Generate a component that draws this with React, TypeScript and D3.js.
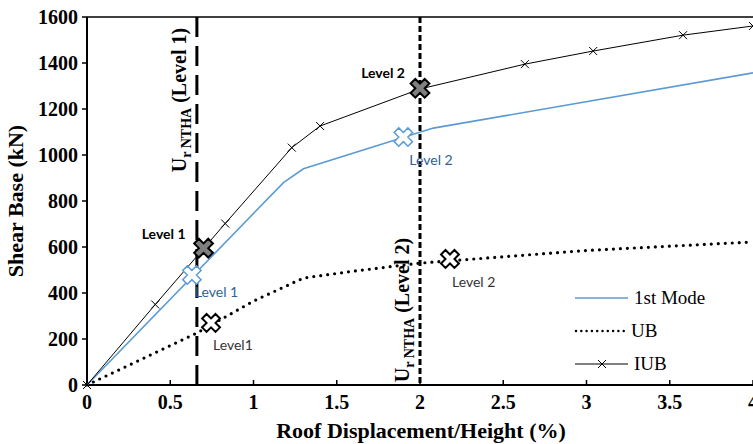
import React from 'react';
import * as d3 from 'd3';

// Pushover curves
const modeX = [0, 1.18, 1.3, 2.08, 4];
const modeY = [0, 880, 940, 1117, 1357];

const ubX = [0, 0.66, 1.0, 1.3, 1.6, 2.0, 3.0, 4.0];
const ubY = [0, 226, 365, 465, 495, 530, 585, 622];

const iubX = [0, 0.41, 0.83, 1.23, 1.4, 2.0, 2.63, 3.04, 3.58, 4.0];
const iubY = [0, 350, 702, 1032, 1126, 1287, 1395, 1452, 1521, 1561];

// performance points
const greyPts = [
  { x: 0.7, y: 595, label: 'Level 1' },
  { x: 2.0, y: 1290, label: 'Level 2' },
];
const bluePts = [
  { x: 0.63, y: 478, label: 'Level 1' },
  { x: 1.9, y: 1078, label: 'Level 2' },
];
const ubPts = [
  { x: 0.745, y: 270, label: 'Level1' },
  { x: 2.18, y: 548, label: 'Level 2' },
];

const nthaX = [0.66, 2.0];
const xTicks = [0, 0.5, 1, 1.5, 2, 2.5, 3, 3.5, 4];
const yTicks = [0, 200, 400, 600, 800, 1000, 1200, 1400, 1600];

const W = 753;
const H = 444;
const serif = '"Liberation Serif", "Times New Roman", serif';
const sans = 'Lato, "Open Sans", sans-serif';
const blue = '#5B9BD5';
const blueText = '#2E5F99';

const App: React.FC = () => {
  const x = d3.scaleLinear().domain([0, 4]).range([87, 753]);
  const y = d3.scaleLinear().domain([0, 1600]).range([385, 17]);

  const line = d3.line<[number, number]>()
    .x(d => x(d[0]))
    .y(d => y(d[1]));

  const zip = (a: number[], b: number[]) => a.map((v, i) => [v, b[i]] as [number, number]);

  const cross = d3.symbol().type(d3.symbolCross);
  const smallX = 'M-4,-4L4,4M-4,4L4,-4';

  return (
    <div style={{ position: 'absolute', left: 0, top: 0 }}>
      <svg width={W} height={H} style={{ display: 'block', background: '#fff' }}>
        {/* axes */}
        <line x1={x(0)} x2={W} y1={y(1600)} y2={y(1600)} stroke="#000" strokeWidth={1.5} />
        <line x1={x(0)} x2={x(0)} y1={y(0)} y2={y(1600)} stroke="#000" strokeWidth={2} />
        <line x1={x(0)} x2={W} y1={y(0)} y2={y(0)} stroke="#000" strokeWidth={2} />
        {yTicks.map(t => (
          <g key={'y' + t}>
            <line x1={x(0) - 5} x2={x(0)} y1={y(t)} y2={y(t)} stroke="#000" strokeWidth={1.5} />
            <text x={78} y={y(t)} dy="0.35em" textAnchor="end" fontFamily={serif}
              fontWeight="bold" fontSize={20}>{t}</text>
          </g>
        ))}
        {xTicks.map(t => (
          <g key={'x' + t}>
            <line x1={x(t)} x2={x(t)} y1={y(0)} y2={y(0) - 5} stroke="#000" strokeWidth={1.5} />
            <text x={x(t)} y={409} textAnchor="middle" fontFamily={serif}
              fontWeight="bold" fontSize={20}>{t}</text>
          </g>
        ))}
        <text x={421} y={438} textAnchor="middle" fontFamily={serif} fontWeight="bold"
          fontSize={22}>Roof Displacement/Height (%)</text>
        <text transform={`translate(23,${y(800)}) rotate(-90)`} textAnchor="middle"
          fontFamily={serif} fontWeight="bold" fontSize={22}>Shear Base (kN)</text>

        {/* NTHA lines */}
        <line x1={x(nthaX[0])} x2={x(nthaX[0])} y1={y(1600)} y2={y(0)} stroke="#000"
          strokeWidth={3} strokeDasharray="20 9" />
        <line x1={x(nthaX[1])} x2={x(nthaX[1])} y1={y(1600)} y2={y(0)} stroke="#000"
          strokeWidth={3} strokeDasharray="6 3" />
        {[{ xv: nthaX[0], cy: 100, lv: 'Level 1' }, { xv: nthaX[1], cy: 310, lv: 'Level 2' }].map(d => (
          <text key={d.lv} transform={`translate(${x(d.xv) - 11},${d.cy}) rotate(-90)`}
            textAnchor="middle" fontFamily={serif} fontWeight="bold" fontSize={20}>
            U<tspan fontSize={14} dy={5}>r NTHA</tspan>
            <tspan dy={-5}> ({d.lv})</tspan>
          </text>
        ))}

        {/* curves */}
        <path d={line(zip(ubX, ubY)) || ''} fill="none" stroke="#000" strokeWidth={3.2}
          strokeDasharray="0 7" strokeLinecap="round" />
        <path d={line(zip(modeX, modeY)) || ''} fill="none" stroke={blue} strokeWidth={1.6} />
        <path d={line(zip(iubX, iubY)) || ''} fill="none" stroke="#000" strokeWidth={1} />
        {iubX.map((v, i) => (
          <path key={'m' + i} d={smallX} transform={`translate(${x(v)},${y(iubY[i])})`}
            stroke="#000" strokeWidth={1} fill="none" />
        ))}

        {/* markers */}
        {ubPts.map(p => (
          <path key={'u' + p.label} d={cross.size(200)() || ''}
            transform={`translate(${x(p.x)},${y(p.y)}) rotate(45)`}
            fill="#fff" stroke="#000" strokeWidth={2} />
        ))}
        {bluePts.map(p => (
          <path key={'b' + p.label} d={cross.size(210)() || ''}
            transform={`translate(${x(p.x)},${y(p.y)}) rotate(45)`}
            fill="#fff" stroke={blue} strokeWidth={1.5} />
        ))}
        {greyPts.map(p => (
          <path key={'g' + p.label} d={cross.size(220)() || ''}
            transform={`translate(${x(p.x)},${y(p.y)}) rotate(45)`}
            fill="#7f7f7f" stroke="#000" strokeWidth={2} />
        ))}

        {/* point labels */}
        <text x={x(greyPts[0].x) - 18} y={y(greyPts[0].y) - 9} textAnchor="end"
          fontFamily={sans} fontWeight="bold" fontSize={14}>{greyPts[0].label}</text>
        <text x={x(greyPts[1].x) - 15} y={y(greyPts[1].y) - 10} textAnchor="end"
          fontFamily={sans} fontWeight="bold" fontSize={14}>{greyPts[1].label}</text>
        <text x={x(bluePts[0].x) + 3} y={y(bluePts[0].y) + 22} fontFamily={sans}
          fontSize={14} fill={blueText}>{bluePts[0].label}</text>
        <text x={x(bluePts[1].x) + 6} y={y(bluePts[1].y) + 28} fontFamily={sans}
          fontSize={14} fill={blueText}>{bluePts[1].label}</text>
        <text x={x(ubPts[0].x) + 2} y={y(ubPts[0].y) + 27} fontFamily={sans}
          fontSize={14} fill="#333">{ubPts[0].label}</text>
        <text x={x(ubPts[1].x) + 2} y={y(ubPts[1].y) + 28} fontFamily={sans}
          fontSize={14} fill="#333">{ubPts[1].label}</text>

        {/* legend */}
        <line x1={575} x2={628} y1={298} y2={298} stroke={blue} strokeWidth={1.6} />
        <text x={634} y={304} fontFamily={serif} fontSize={19}>1st Mode</text>
        <line x1={576} x2={624} y1={331} y2={331} stroke="#000" strokeWidth={2.5}
          strokeDasharray="0 5.3" strokeLinecap="round" />
        <text x={631} y={337} fontFamily={serif} fontSize={19}>UB</text>
        <line x1={575} x2={628} y1={364} y2={364} stroke="#000" strokeWidth={1} />
        <path d={smallX} transform="translate(602,364)" stroke="#000" strokeWidth={1} fill="none" />
        <text x={634} y={370} fontFamily={serif} fontSize={19}>IUB</text>
      </svg>
    </div>
  );
};

export default App;
